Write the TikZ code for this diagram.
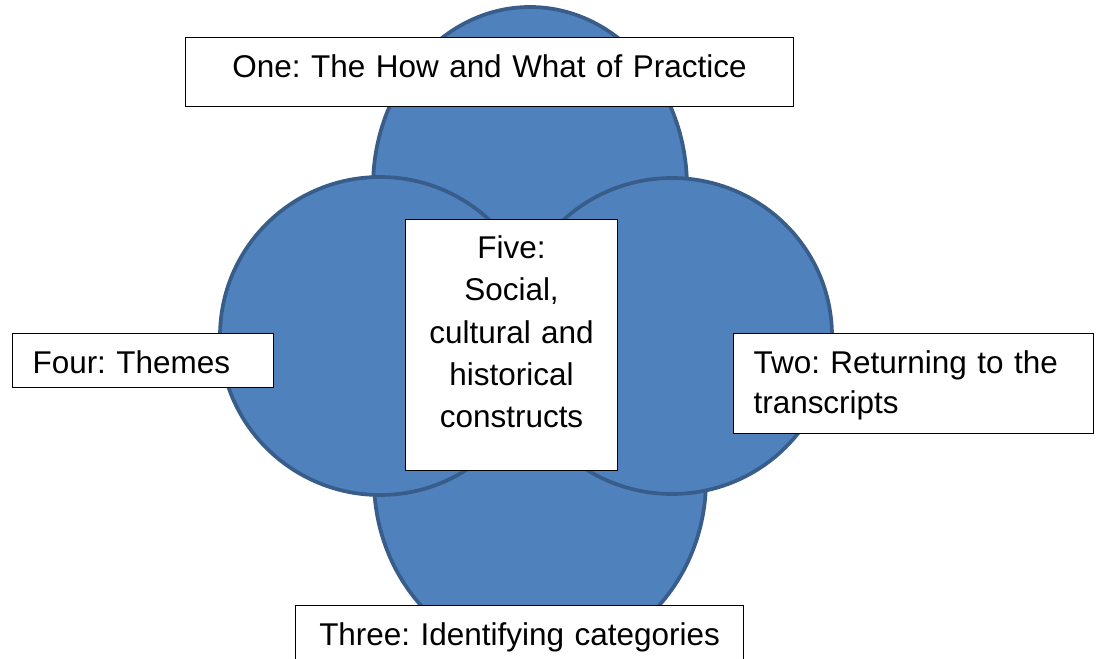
\documentclass[tikz,border=0pt]{standalone}
\usepackage{fontspec}
\setmainfont{Liberation Sans}
\frenchspacing
\definecolor{ringfill}{HTML}{4F81BD}
\definecolor{ringline}{HTML}{385D8A}

\begin{document}
\begin{tikzpicture}[x=0.75pt,y=-0.75pt,
  ring/.style={fill=ringfill,draw=ringline,line width=2.8pt},
  stage/.style={draw=black,fill=white,line width=0.8pt,inner sep=0pt,anchor=north west,
    font=\fontsize{23.6}{30}\selectfont}]
\clip (0,0) rectangle (1096,659);
% the four overlapping rings
\draw[ring] (530,187) ellipse [x radius=157,y radius=180];
\draw[ring] (540,480) ellipse [x radius=166,y radius=180];
\draw[ring] (380,336) ellipse [x radius=160,y radius=159];
\draw[ring] (672,336) ellipse [x radius=160,y radius=158];

% the five stages
\node[stage,text width=456pt,align=center,text height=30pt,text depth=21.75pt] (one) at (185,37) {One: The How and What of Practice};
\node[stage,inner xsep=15pt,text width=240pt,align=left,text height=30pt,text depth=45pt] (two) at (733,333) {Two: Returning to the\\transcripts};
\node[stage,text width=336pt,align=center,text height=30pt,text depth=24pt] (three) at (295,605) {Three: Identifying categories};
\node[stage,inner xsep=15pt,text width=165.75pt,align=left,text height=30pt,text depth=10.5pt] (four) at (12,333) {Four: Themes};
\node[stage,text width=159pt,align=center,text height=29.25pt,text depth=159pt,
  font=\fontsize{23.6}{31.7}\selectfont] (five) at (405,219) {Five:\\Social,\\cultural and\\historical\\constructs};
\end{tikzpicture}
\end{document}
